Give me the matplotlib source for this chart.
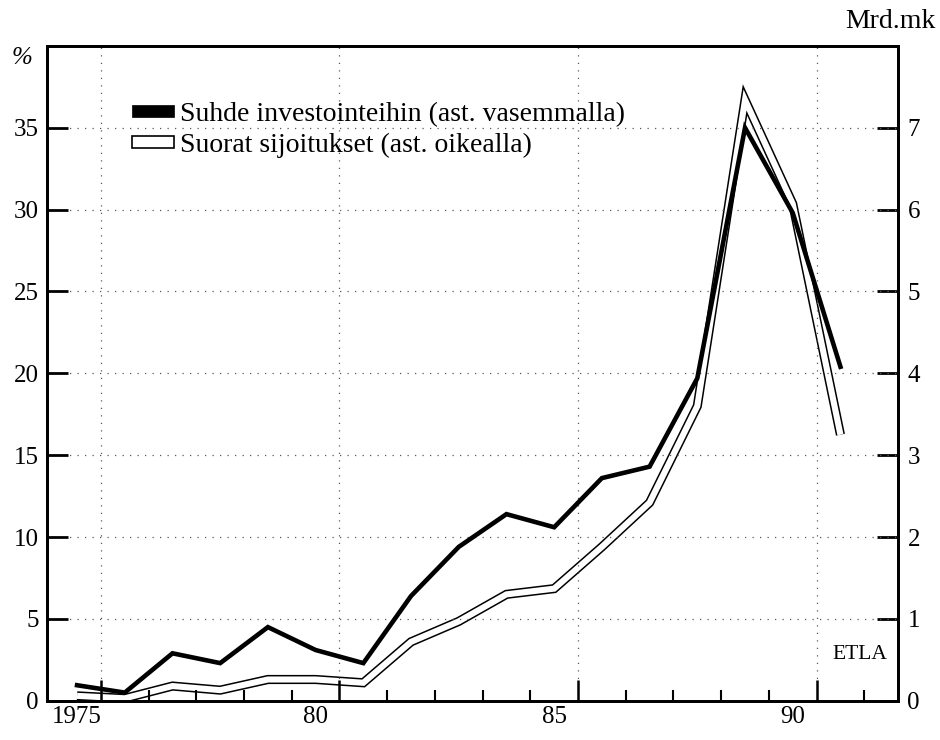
import numpy as np
import matplotlib
matplotlib.use('Agg')
import matplotlib.pyplot as plt
from matplotlib.patches import Patch

plt.rcParams['font.family'] = ['Liberation Serif', 'DejaVu Serif']

# Suorat sijoitukset ulkomaille, 1975-1991
vuodet = np.arange(1975, 1992)
suhde = [0.95, 0.5, 2.9, 2.3, 4.5, 3.1, 2.3, 6.4, 9.4, 11.4, 10.6, 13.6, 14.3,
         19.7, 35.0, 29.8, 20.4]          # % investoinneista (vasen asteikko)
sijoitukset = [0.06, 0.03, 0.18, 0.13, 0.26, 0.26, 0.22, 0.72, 0.97, 1.3, 1.37,
               1.88, 2.42, 3.6, 7.34, 6.07, 3.25]   # Mrd.mk (oikea asteikko)

vasen_ticks = [0, 5, 10, 15, 20, 25, 30, 35]
oikea_ticks = [0, 1, 2, 3, 4, 5, 6, 7]
vuosi_labels = {1975: '1975', 1980: '80', 1985: '85', 1990: '90'}
selitteet = ['Suhde investointeihin (ast. vasemmalla)',
             'Suorat sijoitukset (ast. oikealla)']

fig = plt.figure(figsize=(9.4, 7.4), dpi=100)
ax = fig.add_axes([0.05, 0.053, 0.905, 0.885])
ax2 = ax.twinx()
ax.set_zorder(ax2.get_zorder() + 1)
ax.patch.set_visible(False)

# hollow double line on right axis
ax2.plot(vuodet, sijoitukset, color='black', lw=6.6, solid_joinstyle='miter',
         solid_capstyle='butt')
ax2.plot(vuodet, sijoitukset, color='white', lw=4.4, solid_joinstyle='miter',
         solid_capstyle='butt')
# thick black line on left axis
ax.plot(vuodet, suhde, color='black', lw=3.3, solid_joinstyle='miter')

ax.set_xlim(1974.37, 1992.2)
ax.set_ylim(0, 40)
ax2.set_ylim(0, 8)

# grid
for v in vasen_ticks[1:]:
    ax.axhline(v, color='0.35', lw=0.9, ls=(0, (1, 5)), zorder=0)
for x in [1975.5, 1980.5, 1985.5, 1990.5]:
    ax.axvline(x, color='0.35', lw=0.9, ls=(0, (1, 5)), zorder=0)

fs = 18
ax.set_yticks(vasen_ticks)
ax.tick_params(axis='y', direction='in', length=15, width=2, labelsize=fs, pad=6)
ax2.set_yticks(oikea_ticks)
ax2.tick_params(axis='y', direction='in', length=15, width=2, labelsize=fs, pad=7)

ax.set_xticks(list(vuosi_labels.keys()))
ax.set_xticklabels(list(vuosi_labels.values()))
ax.set_xticks([y + 0.5 for y in vuodet if (y + 0.5) % 5 != 0.5], minor=True)
ax.tick_params(axis='x', which='major', length=0, labelsize=fs, pad=4)
ax.tick_params(axis='x', which='minor', direction='in', length=8, width=1.5)

sec = ax.secondary_xaxis('bottom')
sec.set_xticks([1975.5, 1980.5, 1985.5, 1990.5])
sec.set_xticklabels([])
sec.tick_params(axis='x', direction='in', length=15, width=1.8)
sec.spines['bottom'].set_visible(False)

for a in (ax, ax2):
    for s in a.spines.values():
        s.set_linewidth(2)

fig.text(22 / 940, 1 - 58 / 740, '%', fontsize=fs, style='italic',
         ha='center', va='center')
fig.text(0.995, 1 - 22 / 740, 'Mrd.mk', fontsize=20, ha='right', va='center')
ax.text(0.988, 0.07, 'ETLA', transform=ax.transAxes, fontsize=15.5,
        ha='right', va='center')

kahvat = [Patch(facecolor='black', edgecolor='black', lw=0.5),
          Patch(facecolor='white', edgecolor='black', lw=1.2)]
ax.legend(kahvat, selitteet, loc='upper left', bbox_to_anchor=(0.084, 0.935),
          frameon=False, fontsize=20, handlelength=1.5, handleheight=0.3,
          handletextpad=0.2, labelspacing=0.2, borderpad=0)

fig.savefig('out.png', dpi=100, facecolor='white')
